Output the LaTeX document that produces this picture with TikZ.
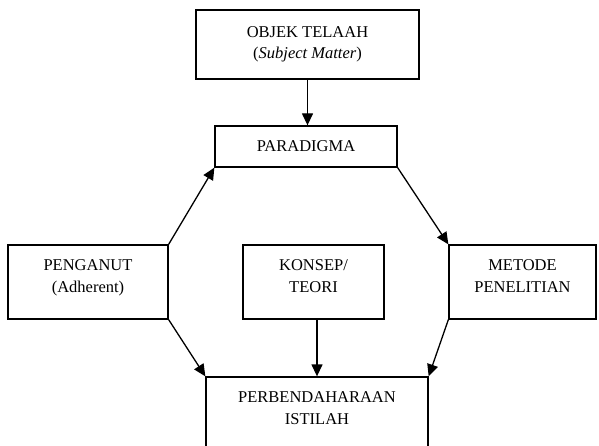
\documentclass[tikz,border=0pt]{standalone}
\usepackage{fontspec}
\setmainfont{Liberation Serif}
\usetikzlibrary{arrows.meta}
\begin{document}
\begin{tikzpicture}[x=1pt,y=-1pt,line width=1.3pt,
  box/.style={draw,align=center,inner sep=0pt,font=\fontsize{16.5}{21.5}\selectfont},
  arr/.style={-{Triangle[length=12pt,width=11pt]}}]
\clip(0,0)rectangle(599,446);
%
\node[box,minimum width=223,minimum height=69](obj)at(307.5,44.5){OBJEK TELAAH\\(\textit{Subject Matter})};
\node[box,minimum width=182,minimum height=41](par)at(306,146.5){PARADIGMA};
\node[box,minimum width=160,minimum height=74,text depth=12pt](pen)at(88,282){PENGANUT\\(Adherent)};
\node[box,minimum width=141,minimum height=74,text depth=12pt](kon)at(313.5,282){KONSEP/\\TEORI};
\node[box,minimum width=147,minimum height=74,text depth=12pt](met)at(522.5,282){METODE\\PENELITIAN};
\node[box,minimum width=222,minimum height=80,text depth=18pt](perb)at(317,417){PERBENDAHARAAN\\ISTILAH};
%
\draw[arr](obj.south)--(obj.south|-par.north);
\draw[arr](pen.north east)--(par.south west);
\draw[arr](par.south east)--(met.north west);
\draw[arr](pen.south east)--(perb.north west);
\draw[arr](perb.north|-kon.south)--(perb.north);
\draw[arr](met.south west)--(perb.north east);
\end{tikzpicture}
\end{document}
